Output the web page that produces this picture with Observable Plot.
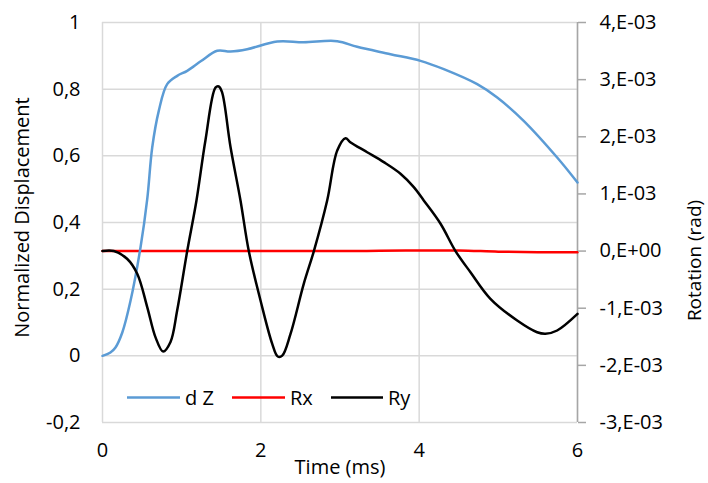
<!DOCTYPE html>
<html><head><meta charset="utf-8">
<script src="https://cdn.jsdelivr.net/npm/d3@7"></script>
<script src="https://cdn.jsdelivr.net/npm/@observablehq/plot@0.6"></script>
<style>body{margin:0;background:#fff;font-family:"Open Sans",sans-serif}#chart{width:708px;height:483px}</style>
</head><body><div id="chart"></div>
<script>
// X ticks and labels
const xTicks = [0, 2, 4, 6];
const xTickLabels = ["0", "2", "4", "6"];
// Left axis ticks (normalized displacement)
const yTicks = [-0.2, 0, 0.2, 0.4, 0.6, 0.8, 1];
const yTickLabels = ["-0,2", "0", "0,2", "0,4", "0,6", "0,8", "1"];
// Right axis ticks (rotation, in units of 1e-3 rad)
const rTicks = [-3, -2, -1, 0, 1, 2, 3, 4];
const rTickLabels = ["-3,E-03", "-2,E-03", "-1,E-03", "0,E+00", "1,E-03", "2,E-03", "3,E-03", "4,E-03"];

// axis titles
const xTitle = "Time (ms)";
const yLeftTitle = "Normalized Displacement";
const yRightTitle = "Rotation (rad)";

// d Z series
const dzTime  = [0, 0.1, 0.164, 0.25, 0.354, 0.48, 0.565, 0.628, 0.711, 0.817, 0.944, 1.07, 1.25, 1.449, 1.617, 1.828, 2.207, 2.54, 2.965, 3.217, 3.638, 4.017, 4.311, 4.733, 4.986, 5.32, 5.743, 6];
const dzValue = [0, 0.01, 0.025, 0.07, 0.165, 0.325, 0.47, 0.625, 0.735, 0.815, 0.84, 0.855, 0.885, 0.915, 0.913, 0.92, 0.943, 0.941, 0.944, 0.927, 0.905, 0.885, 0.86, 0.815, 0.775, 0.705, 0.595, 0.52];

// Rx series (1e-3 rad)
const rxTime  = [0, 1, 2, 3, 3.5, 4, 4.5, 5, 5.5, 6];
const rxValue = [0, 0, 0, 0, 0.005, 0.01, 0.01, -0.01, -0.02, -0.02];

// Ry series (1e-3 rad)
const ryTime  = [0, 0.143, 0.31, 0.44, 0.565, 0.67, 0.766, 0.859, 0.943, 1.07, 1.187, 1.30, 1.427, 1.469, 1.51, 1.617, 1.743, 1.848, 1.996, 2.143, 2.214, 2.27, 2.375, 2.543, 2.67, 2.838, 2.965, 3.07, 3.13, 3.343, 3.553, 3.764, 3.932, 4.058, 4.27, 4.459, 4.648, 4.9, 5.238, 5.49, 5.595, 5.743, 6];
const ryValue = [0, 0, -0.135, -0.4, -0.98, -1.51, -1.757, -1.59, -1.04, 0, 0.886, 1.936, 2.86, 2.88, 2.78, 1.82, 0.886, 0, -0.865, -1.62, -1.845, -1.83, -1.45, -0.57, 0, 0.886, 1.76, 1.976, 1.906, 1.73, 1.556, 1.353, 1.118, 0.886, 0.478, 0, -0.37, -0.835, -1.215, -1.42, -1.447, -1.39, -1.1];

const seriesNames = ["d Z", "Rx", "Ry"];
const seriesColors = ["#5b9bd5", "#ff0000", "#000000"];

// map right-axis value onto the left scale
const toLeft = r => -0.2 + (r + 3) * 1.2 / 7;
const fromLeftIndex = v => Math.round((v + 0.2) * 7 / 1.2);

const dz = dzTime.map((t, i) => ({t, v: dzValue[i]}));
const rx = rxTime.map((t, i) => ({t, v: toLeft(rxValue[i])}));
const ry = ryTime.map((t, i) => ({t, v: toLeft(ryValue[i])}));

const grid = "#d9d9d9";
const font = "Open Sans";

const plot = Plot.plot({
  width: 708, height: 483,
  marginLeft: 102, marginRight: 131, marginTop: 22, marginBottom: 61,
  style: {fontFamily: font, fontSize: "20px", color: "#000", background: "#fff"},
  x: {domain: [0, 6]},
  y: {domain: [-0.2, 1]},
  marks: [
    Plot.gridX(xTicks, {stroke: grid, strokeOpacity: 1, strokeWidth: 1.5}),
    Plot.gridY(yTicks, {stroke: grid, strokeOpacity: 1, strokeWidth: 1.5}),
    Plot.ruleX([6], {stroke: "#a6a6a6", strokeWidth: 1.5}),
    Plot.line(rx, {x: "t", y: "v", stroke: seriesColors[1], strokeWidth: 2.5, curve: "catmull-rom"}),
    Plot.line(dz, {x: "t", y: "v", stroke: seriesColors[0], strokeWidth: 2.5, curve: "catmull-rom"}),
    Plot.line(ry, {x: "t", y: "v", stroke: seriesColors[2], strokeWidth: 2.5, curve: "catmull-rom"}),
    Plot.axisX(xTicks, {tickSize: 0, tickPadding: 20, tickFormat: d => xTickLabels[xTicks.indexOf(d)],
      fill: "#000", label: null}),
    Plot.axisY(yTicks, {anchor: "left", tickSize: 0, tickPadding: 22, fill: "#000",
      tickFormat: d => yTickLabels[yTicks.indexOf(d)], label: null}),
    Plot.axisY(rTicks.map(toLeft), {anchor: "right", tickSize: 8, stroke: "#a6a6a6", strokeWidth: 1.5, tickPadding: 14, fill: "#000",
      tickFormat: d => rTickLabels[fromLeftIndex(d)], label: null}),
    Plot.text([xTitle], {frameAnchor: "bottom", dy: 51, fill: "#000", fontSize: 20}),
    Plot.text([yLeftTitle], {frameAnchor: "left", textAnchor: "middle", dx: -80, dy: -5, rotate: -90, fill: "#000", fontSize: 20}),
    Plot.text([yRightTitle], {frameAnchor: "right", textAnchor: "middle", dx: 117, dy: 38, rotate: -90, fill: "#000", fontSize: 19})
  ]
});
document.getElementById("chart").appendChild(plot);

// legend inside the plot area (bottom-left)
const svg = d3.select(plot);
const legendItems = [
  {x1: 127, x2: 180, tx: 185},
  {x1: 232, x2: 285, tx: 290},
  {x1: 331, x2: 383, tx: 388}
];
const lg = svg.append("g").attr("text-anchor", "start");
legendItems.forEach((it, i) => {
  lg.append("line").attr("x1", it.x1).attr("x2", it.x2).attr("y1", 397.5).attr("y2", 397.5)
    .attr("stroke", seriesColors[i]).attr("stroke-width", 2.5);
  lg.append("text").attr("x", it.tx).attr("y", 397.5).attr("dy", "0.35em")
    .attr("font-family", font).attr("font-size", 20).attr("fill", "#000").text(seriesNames[i]);
});
</script></body></html>
